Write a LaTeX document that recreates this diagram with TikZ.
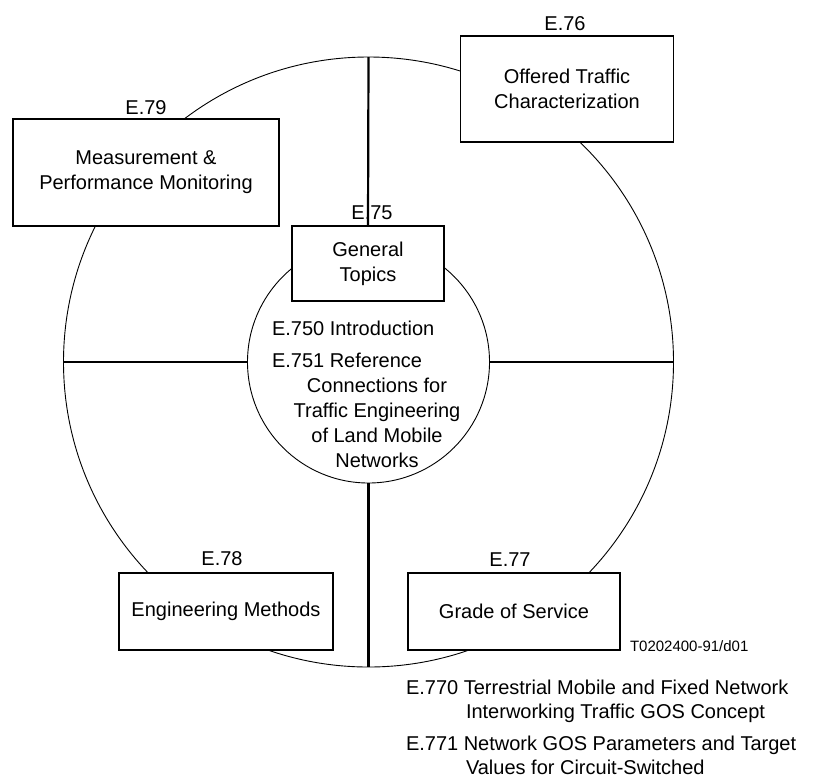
\documentclass[tikz,border=0pt]{standalone}
\usepackage{fontspec}
\setmainfont{Liberation Sans}
\begin{document}
\begin{tikzpicture}[x=1pt,y=-1pt,
  txt/.style={font=\fontsize{20}{25}\selectfont, inner sep=0pt, outer sep=0pt},
  lab/.style={txt, anchor=base},
  labl/.style={txt, anchor=base west},
  box/.style={draw, line width=1.3pt, fill=white, inner sep=0pt, outer sep=0pt, align=center, font=\fontsize{20}{25}\selectfont},
  ring/.style={draw, line width=0.9pt, circle, inner sep=0pt, outer sep=0pt},
  cross/.style={line width=2.2pt}
]
\useasboundingbox (0,0) rectangle (813,780);
% circles
\node[ring, minimum size=610pt] (outer) at (368.5,362) {};
\node[ring, minimum size=242pt] (inner) at (368.5,362) {};
% boxes
\node[box, minimum width=213pt, minimum height=106pt] (b76) at (567,89) {Offered Traffic\\Characterization};
\node[box, minimum width=266pt, minimum height=107pt] (b79) at (146,172.5) {Measurement \&\\Performance Monitoring};
\node[box, minimum width=152pt, minimum height=75pt] (b75) at (368,263.5) {General\\Topics};
\node[box, minimum width=214pt, minimum height=77pt] (b78) at (226,611.5) {Engineering Methods};
\node[box, minimum width=212pt, minimum height=77pt] (b77) at (514,611.5) {Grade of Service};
% connectors
\draw[cross] (outer.north) -- (b75.north);
\draw[cross] (outer.west) -- (inner.west);
\draw[cross] (inner.east) -- (outer.east);
\draw[cross] (inner.south) -- (outer.south);
% labels
\node[lab] (l76) at (565,30) {E.76};
\node[lab] (l79) at (146,114) {E.79};
\node[lab] (l75) at (372,219) {E.75};
\node[lab] (l78) at (222,565) {E.78};
\node[lab] (l77) at (510,566) {E.77};
% inner text
\node[labl] (t1) at (272,335) {E.750 Introduction};
\node[labl] (t2) at (272,367) {E.751 Reference};
\node[lab] (t3) at (377,392) {Connections for};
\node[lab] (t4) at (377,417) {Traffic Engineering};
\node[lab] (t5) at (377,442) {of Land Mobile};
\node[lab] (t6) at (377,467) {Networks};
% figure id
\node[txt, anchor=base west, font=\fontsize{15}{18}\selectfont] (fid) at (630,651.5) {T0202400-91/d01};
% bottom texts
\node[labl] (r1) at (406,694) {E.770 Terrestrial Mobile and Fixed Network};
\node[labl] (r2) at (466,718) {Interworking Traffic GOS Concept};
\node[labl] (r3) at (406,750) {E.771 Network GOS Parameters and Target};
\node[labl] (r4) at (466,774) {Values for Circuit-Switched};
\end{tikzpicture}
\end{document}
